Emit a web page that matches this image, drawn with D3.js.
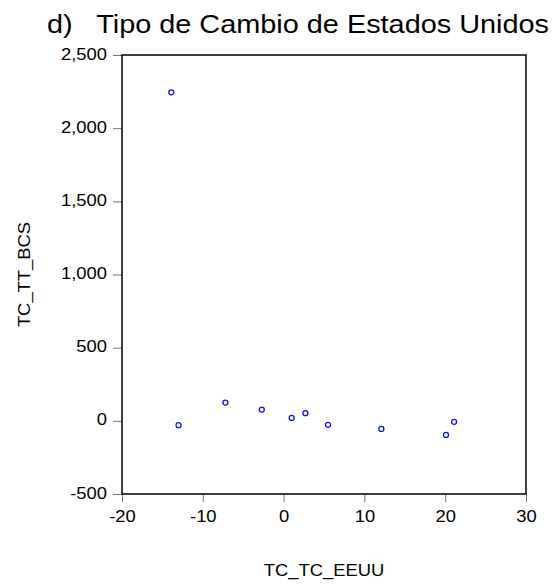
<!DOCTYPE html>
<html>
<head>
<meta charset="utf-8">
<script src="https://cdn.jsdelivr.net/npm/d3@7"></script>
<style>
  body { margin: 0; background: #fff; }
  text { font-family: "Liberation Sans", Arial, sans-serif; }
</style>
</head>
<body>
<div id="chart"></div>
<script>
// data
var tcEEUU = [-13.9, -13.0, -7.2, -2.7, 1.0, 2.7, 5.5, 12.1, 20.1, 21.1];
var tcBCS  = [2245, -30, 125, 77, 20, 52, -27, -55, -96, -7];
var xTicks = [-20, -10, 0, 10, 20, 30];
var yTicks = [-500, 0, 500, 1000, 1500, 2000, 2500];

var W = 557, H = 584;
var margin = {top: 55, right: 31, bottom: 90, left: 122};
var width = W - margin.left - margin.right, height = H - margin.top - margin.bottom;
var stretch = 1.15; // text in the reference is a bit wide

var loc = d3.formatLocale({decimal: ".", thousands: ",", grouping: [3], currency: ["$", ""], minus: "-"});

var svg = d3.select("#chart")
    .append("svg")
    .attr("width", W)
    .attr("height", H);

svg.append("text")
    .attr("x", 47)
    .attr("y", 33)
    .attr("font-size", 25)
    .attr("fill", "#000")
    .attr("xml:space", "preserve")
    .attr("textLength", 502)
    .attr("lengthAdjust", "spacingAndGlyphs")
    .text("d)   Tipo de Cambio de Estados Unidos");

var g = svg.append("g")
    .attr("transform", "translate(" + margin.left + "," + margin.top + ")");

var x = d3.scaleLinear().domain([-20, 30]).range([0, width]);
var y = d3.scaleLinear().domain([-500, 2500]).range([height, 0]);

// axes
var xAxis = g.append("g")
    .attr("transform", "translate(0," + height + ")")
    .call(d3.axisBottom(x).tickValues(xTicks).tickSize(8).tickPadding(9).tickFormat(loc.format("d")));
var yAxis = g.append("g")
    .call(d3.axisLeft(y).tickValues(yTicks).tickSize(9).tickPadding(6).tickFormat(loc.format(",")));

[xAxis, yAxis].forEach(function(a) {
    a.select(".domain").remove();
    a.selectAll(".tick line").attr("stroke", "#777");
    a.selectAll(".tick text")
        .attr("font-size", 16)
        .attr("fill", "#000")
        .attr("font-family", "Liberation Sans, Arial, sans-serif")
        .each(function() {
            var t = d3.select(this);
            var tx = +t.attr("x") || 0, ty = +t.attr("y") || 0;
            t.attr("x", 0).attr("y", 0)
             .attr("transform", "translate(" + tx + "," + ty + ") scale(" + stretch + ",1)");
        });
});
yAxis.selectAll(".tick text").attr("dy", "0.25em");

// frame
g.append("rect")
    .attr("width", width)
    .attr("height", height)
    .attr("fill", "none")
    .attr("stroke", "#000")
    .attr("stroke-width", 1.5);

// points
g.selectAll("circle")
    .data(tcEEUU)
    .enter()
    .append("circle")
    .attr("cx", function(d) { return x(d); })
    .attr("cy", function(d, i) { return y(tcBCS[i]); })
    .attr("r", 2.5)
    .attr("fill", "none")
    .attr("stroke", "#1010ff")
    .attr("stroke-width", 1.3);

// axis titles
svg.append("text")
    .attr("transform", "translate(" + (margin.left + width / 2) + ",576) scale(" + stretch + ",1)")
    .attr("text-anchor", "middle")
    .attr("font-size", 16)
    .text("TC_TC_EEUU");

svg.append("text")
    .attr("transform", "translate(30," + (margin.top + height / 2) + ") rotate(-90) scale(" + stretch + ",1)")
    .attr("text-anchor", "middle")
    .attr("font-size", 16)
    .text("TC_TT_BCS");
</script>
</body>
</html>
